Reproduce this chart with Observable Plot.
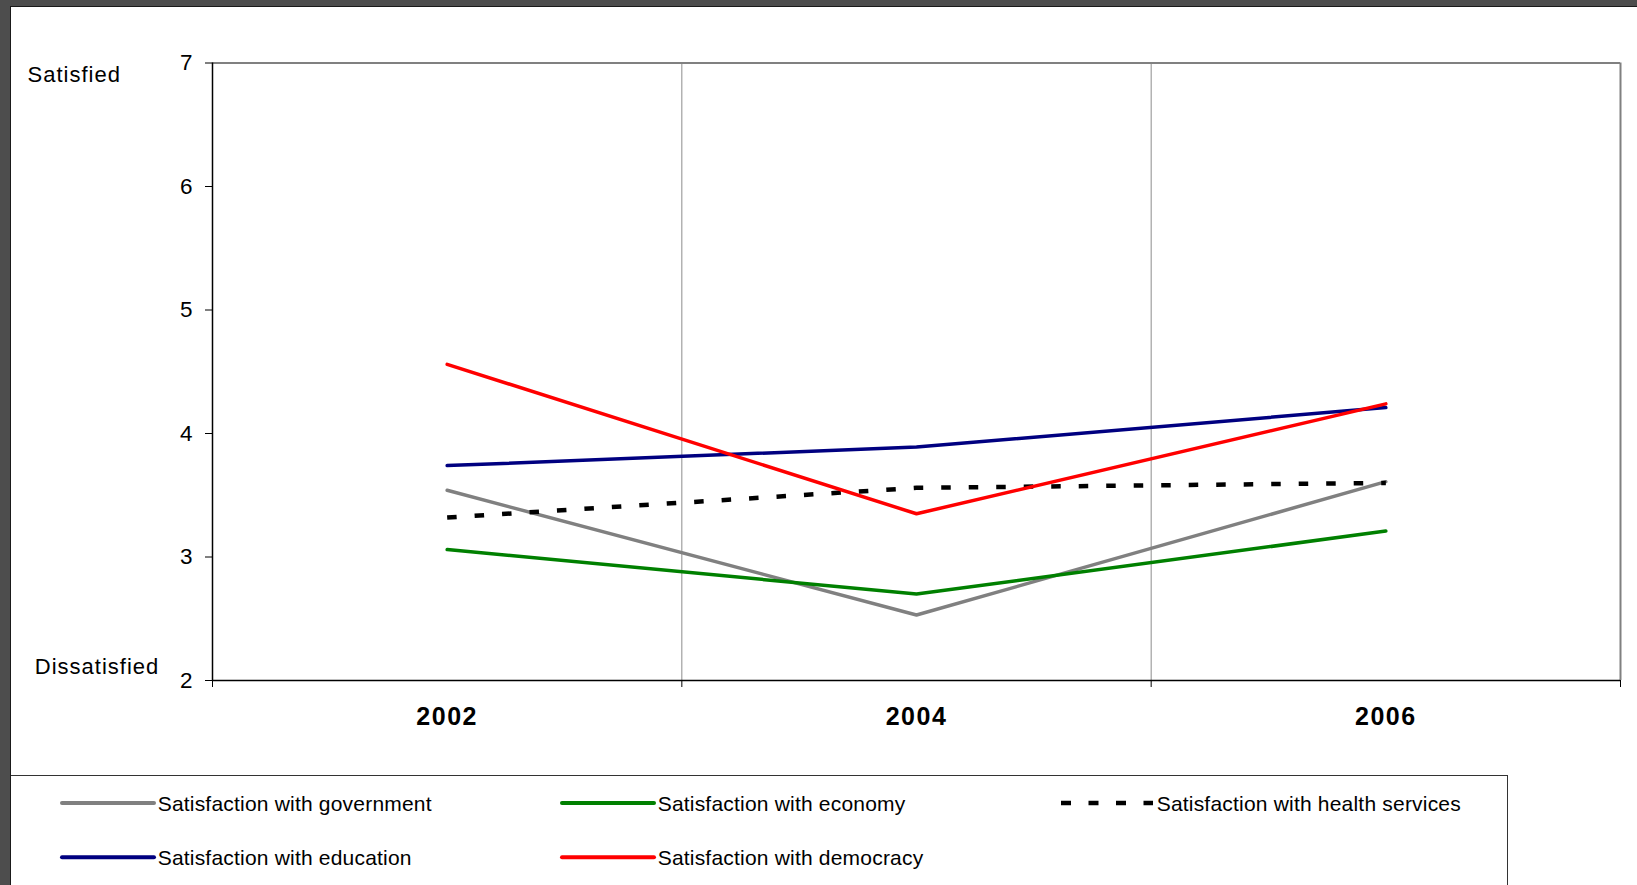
<!DOCTYPE html>
<html><head><meta charset="utf-8">
<script src="https://cdn.jsdelivr.net/npm/d3@7"></script>
<script src="https://cdn.jsdelivr.net/npm/@observablehq/plot@0.6"></script>
<style>
html,body{margin:0;padding:0;background:#4d4d4d;width:1637px;height:885px;overflow:hidden;font-family:"Liberation Sans",Arial,sans-serif;}
#page{position:absolute;left:10px;top:6px;width:1626px;height:878px;background:#fff;border-left:1px solid #1a1a1a;border-top:1px solid #1a1a1a;overflow:hidden;}
#chart{position:absolute;left:0;top:0;}
#legend{position:absolute;left:0;top:768px;width:1496px;height:120px;border-top:1px solid #333;border-right:1px solid #333;}
</style></head>
<body><div id="page"><div id="chart"></div><div id="legend"></div></div>
<script>
// ---- data ----
const years = [2002, 2004, 2006];
const government = [3.54, 2.53, 3.61];
const economy = [3.06, 2.70, 3.21];
const health = [3.32, 3.56, 3.60];
const education = [3.74, 3.89, 4.21];
const democracy = [4.56, 3.35, 4.24];
const seriesNames = ["Satisfaction with government", "Satisfaction with economy", "Satisfaction with health services", "Satisfaction with education", "Satisfaction with democracy"];
const seriesValues = [government, economy, health, education, democracy];
const seriesColors = ["#808080", "#008000", "#000000", "#000080", "#ff0000"];
const yTicks = [2, 3, 4, 5, 6, 7];
const xDomain = [2001, 2007];
const xBoundaries = [2001, 2003, 2005, 2007];
const xGrid = [2003, 2005];
const topLabel = "Satisfied";
const bottomLabel = "Dissatisfied";

const series = seriesNames.map((name, i) => ({
  name, color: seriesColors[i], dashed: i === 2,
  rows: years.map((y, j) => ({year: y, value: seriesValues[i][j]}))
}));

const font = "'Liberation Sans', Arial, sans-serif";

const lineMarks = series.map(s => Plot.line(s.rows, {
  x: "year", y: "value", stroke: s.color,
  strokeWidth: s.dashed ? 4.5 : 3.5,
  strokeDasharray: s.dashed ? "9.5,18" : null,
  strokeLinecap: s.dashed ? "butt" : "round",
  strokeLinejoin: "miter"
}));

const chart = Plot.plot({
  width: 1626, height: 768,
  marginLeft: 201, marginRight: 17, marginTop: 55.5, marginBottom: 95,
  style: {fontFamily: font, background: "white", color: "black", overflow: "visible"},
  x: {type: "linear", domain: xDomain},
  y: {domain: [yTicks[0], yTicks[yTicks.length - 1]]},
  marks: [
    Plot.ruleX(xGrid, {stroke: "#8c8c8c", strokeWidth: 1}),
    Plot.ruleY([yTicks[yTicks.length - 1]], {stroke: "#808080", strokeWidth: 2}),
    Plot.ruleX([xDomain[1]], {stroke: "#808080", strokeWidth: 2}),
    Plot.axisY({ticks: yTicks, tickSize: 7, tickPadding: 13, fontSize: 22.5, label: null, tickFormat: d => String(d), stroke: "black", fill: "black"}),
    Plot.axisX({ticks: xBoundaries, tickSize: 7, tickFormat: () => "", label: null, stroke: "black"}),
    Plot.axisX({ticks: years, tickSize: 0, tickPadding: 27, fontSize: 25, fontWeight: "bold", label: null, tickFormat: d => String(d), fill: "black"}),
    ...lineMarks,
    Plot.ruleX([xDomain[0]], {stroke: "black", strokeWidth: 1.5}),
    Plot.ruleY([yTicks[0]], {stroke: "black", strokeWidth: 1.5}),
    Plot.text([topLabel], {x: () => xDomain[0], y: () => yTicks[yTicks.length - 1], text: d => d, textAnchor: "start", lineAnchor: "bottom", dx: -185, dy: 18.5, fontSize: 22, fill: "black"}),
    Plot.text([bottomLabel], {x: () => xDomain[0], y: () => yTicks[0], text: d => d, textAnchor: "start", lineAnchor: "bottom", dx: -177.7, dy: -6.7, fontSize: 22, fill: "black"})
  ]
});
document.getElementById("chart").appendChild(chart);
d3.select(chart).selectAll('g[aria-label="text"] text').attr("letter-spacing", "1px");
d3.select(chart).selectAll('g[aria-label="x-axis tick label"] text').attr("letter-spacing", "1.5px");
d3.select(chart).selectAll('g[aria-label="y-axis tick label"] text').style("font-size", "22.5px");

// ---- legend ----
const colX = [51, 551, 1050];
const rowY = [27, 81.3];
const swatchLen = 92;
const lsvg = d3.select("#legend").append("svg")
  .attr("width", 1496).attr("height", 110)
  .style("position", "absolute").style("left", 0).style("top", 0)
  .style("font-family", font);
series.forEach((s, i) => {
  const c = i % 3, r = Math.floor(i / 3);
  const x0 = colX[c], y0 = rowY[r];
  lsvg.append("line")
    .attr("x1", x0).attr("x2", x0 + swatchLen).attr("y1", y0).attr("y2", y0)
    .attr("stroke", s.color).attr("stroke-width", s.dashed ? 4.5 : 4)
    .attr("stroke-linecap", s.dashed ? "butt" : "round")
    .attr("stroke-dasharray", s.dashed ? "10,17.5" : null);
  lsvg.append("text")
    .attr("x", x0 + swatchLen + 3.7).attr("y", y0 + 7.5)
    .attr("font-size", 21).attr("letter-spacing", "0.2px").attr("fill", "black")
    .text(s.name);
});
</script>
</body></html>
